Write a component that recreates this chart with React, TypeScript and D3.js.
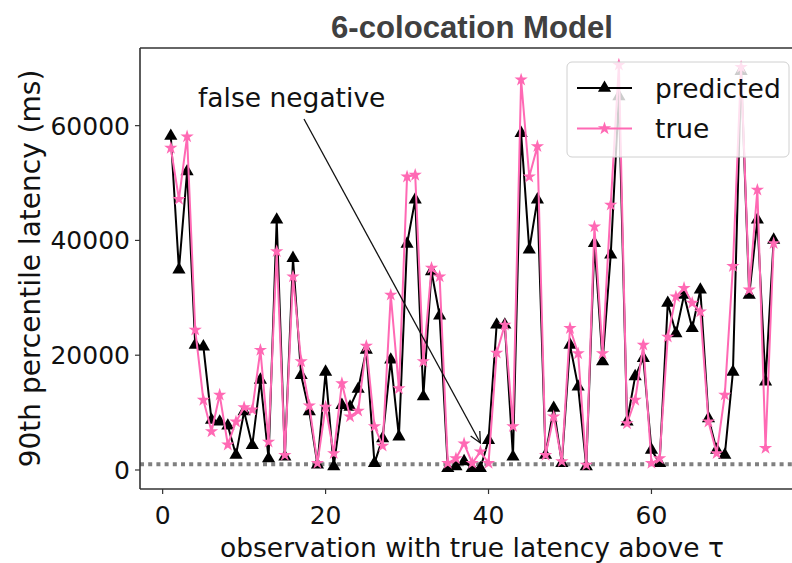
import React from "react";
import * as d3 from "d3";

// observation index (1..75)
const observations: number[] = d3.range(1, 76);

// predicted 90th percentile latency (ms)
const predicted: number[] = [
  58200, 34900, 52000, 21800, 21500, 8700, 8400, 7700, 2600, 10200,
  4300, 15700, 2000, 43600, 2300, 36900, 16500, 10200, 900, 17100,
  600, 11300, 11000, 14100, 20900, 1200, 5500, 19200, 5800, 39400,
  47100, 12800, 34600, 26900, 300, 600, 1500, 300, 300, 5200,
  25300, 25300, 2300, 58700, 38400, 47100, 2600, 10800, 1200, 21800,
  14500, 600, 39500, 18900, 37500, 65100, 8400, 16300, 19500, 3500,
  1200, 29100, 23800, 30500, 24700, 31400, 9000, 3500, 2600, 17100,
  69500, 30500, 43600, 15400, 40100,
];

// true 90th percentile latency (ms)
const actual: number[] = [
  56100, 47200, 58100, 24400, 12200, 6700, 13100, 4400, 8400, 10900,
  10500, 20900, 4900, 38100, 2600, 33700, 18900, 11200, 1200, 11000,
  2900, 15100, 9300, 10300, 21600, 7600, 4200, 30500, 14200, 51100,
  51400, 18900, 35200, 33700, 1200, 2000, 4600, 1200, 3200, 1200,
  20400, 25300, 7600, 68000, 51100, 56400, 2600, 9300, 1500, 24700,
  20300, 900, 42400, 20300, 46200, 70600, 8100, 12200, 21800, 1200,
  2000, 23200, 30200, 31700, 29100, 27600, 8400, 2900, 13100, 35500,
  70200, 31400, 48800, 3800, 39500,
];

const threshold = 1000;

const xTicks: number[] = [0, 20, 40, 60];
const yTicks: number[] = [0, 20000, 40000, 60000];

const seriesNames: string[] = ["predicted", "true"];

const W = 792;
const H = 563;
const left = 140;
const top = 48;
const bottom = 489;
const right = 803;

const PINK = "#ff69b4";
const FONT = "DejaVu Sans, sans-serif";
const FS = 26.5;
const TICK_FS = 25;

export default function App() {
  const x = d3.scaleLinear().domain([-2.78, 78.6]).range([left, right]);
  const y = d3.scaleLinear().domain([-3313, 73530]).range([bottom, top]);

  const seriesLine = d3
    .line<number>()
    .x((_, i) => x(observations[i]))
    .y((d) => y(d));

  const tri = d3.symbol().type(d3.symbolTriangle).size(75)();
  const star = d3.symbol().type(d3.symbolStar).size(55)();

  const arrowFrom: [number, number] = [304, 119];
  const arrowTo: [number, number] = [x(39), y(4700)];
  const ang = Math.atan2(arrowTo[1] - arrowFrom[1], arrowTo[0] - arrowFrom[0]);
  const headLen = 12;
  const headA = Math.PI / 7;
  const h1: [number, number] = [
    arrowTo[0] - headLen * Math.cos(ang - headA),
    arrowTo[1] - headLen * Math.sin(ang - headA),
  ];
  const h2: [number, number] = [
    arrowTo[0] - headLen * Math.cos(ang + headA),
    arrowTo[1] - headLen * Math.sin(ang + headA),
  ];

  return (
    <svg
      width={W}
      height={H}
      style={{ position: "absolute", left: 0, top: 0, background: "#fff" }}
    >
      <defs>
        <clipPath id="plot-area">
          <rect x={left} y={top} width={right - left} height={bottom - top} />
        </clipPath>
      </defs>

      {/* title */}
      <text
        x={472}
        y={38}
        textAnchor="middle"
        fontFamily="Liberation Sans, Arial, sans-serif"
        fontWeight="bold"
        fontSize={32}
        textLength={282}
        lengthAdjust="spacingAndGlyphs"
        fill="#404040"
      >
        6-colocation Model
      </text>

      <g clipPath="url(#plot-area)">
        {/* threshold τ */}
        <line
          x1={left}
          x2={right}
          y1={y(threshold)}
          y2={y(threshold)}
          stroke="#808080"
          strokeWidth={4}
          strokeDasharray="4 4.2"
        />

        {/* predicted series */}
        <path d={seriesLine(predicted) ?? ""} fill="none" stroke="#000" strokeWidth={2} />
        {predicted.map((v, i) => (
          <path
            key={`p${i}`}
            d={tri ?? ""}
            transform={`translate(${x(observations[i])},${y(v)})`}
            fill="#000"
          />
        ))}

        {/* true series */}
        <path d={seriesLine(actual) ?? ""} fill="none" stroke={PINK} strokeWidth={2} />
        {actual.map((v, i) => (
          <path
            key={`t${i}`}
            d={star ?? ""}
            transform={`translate(${x(observations[i])},${y(v)})`}
            fill={PINK}
          />
        ))}
      </g>

      {/* axes frame */}
      <g stroke="#333" strokeWidth={1.6} fill="none">
        <line x1={left} x2={left} y1={top} y2={bottom} />
        <line x1={left} x2={right} y1={bottom} y2={bottom} />
        <line x1={left} x2={right} y1={top} y2={top} />
        <line x1={right} x2={right} y1={top} y2={bottom} />
      </g>

      {/* y ticks */}
      {yTicks.map((t) => (
        <g key={`yt${t}`}>
          <line x1={left - 5} x2={left} y1={y(t)} y2={y(t)} stroke="#333" strokeWidth={1.2} />
          <text
            x={left - 10}
            y={y(t)}
            dy="0.36em"
            textAnchor="end"
            fontFamily={FONT}
            fontSize={TICK_FS}
            fill="#111"
          >
            {t}
          </text>
        </g>
      ))}

      {/* x ticks */}
      {xTicks.map((t) => (
        <g key={`xt${t}`}>
          <line x1={x(t)} x2={x(t)} y1={bottom} y2={bottom + 5} stroke="#333" strokeWidth={1.2} />
          <text
            x={x(t)}
            y={524}
            textAnchor="middle"
            fontFamily={FONT}
            fontSize={TICK_FS}
            fill="#111"
          >
            {t}
          </text>
        </g>
      ))}

      {/* axis labels */}
      <text
        x={472}
        y={557}
        textAnchor="middle"
        fontFamily={FONT}
        fontSize={FS}
        fill="#111"
      >
        observation with true latency above τ
      </text>
      <text
        transform={`translate(40,${(top + bottom) / 2}) rotate(-90)`}
        textAnchor="middle"
        fontFamily={FONT}
        fontSize={28}
        fill="#111"
      >
        90th percentile latency (ms)
      </text>

      {/* annotation */}
      <text x={198} y={107} fontFamily={FONT} fontSize={FS} fill="#111">
        false negative
      </text>
      <line
        x1={arrowFrom[0]}
        y1={arrowFrom[1]}
        x2={arrowTo[0]}
        y2={arrowTo[1]}
        stroke="#111"
        strokeWidth={1.3}
      />
      <polyline
        points={`${h1[0]},${h1[1]} ${arrowTo[0]},${arrowTo[1]} ${h2[0]},${h2[1]}`}
        fill="none"
        stroke="#111"
        strokeWidth={1.3}
      />

      {/* legend */}
      <g>
        <rect
          x={567}
          y={62}
          width={222}
          height={95}
          rx={5}
          fill="#fff"
          fillOpacity={0.8}
          stroke="#d0d0d0"
          strokeWidth={1}
        />
        {seriesNames.map((name, i) => {
          const ly = 88 + i * 40.5;
          const color = i === 0 ? "#000" : PINK;
          return (
            <g key={name}>
              <line x1={577} x2={632} y1={ly} y2={ly} stroke={color} strokeWidth={2} />
              <path
                d={(i === 0 ? tri : star) ?? ""}
                transform={`translate(604.5,${ly})`}
                fill={color}
              />
              <text
                x={655}
                y={ly}
                dy="0.36em"
                fontFamily={FONT}
                fontSize={FS}
                fill="#111"
              >
                {name}
              </text>
            </g>
          );
        })}
      </g>
    </svg>
  );
}
